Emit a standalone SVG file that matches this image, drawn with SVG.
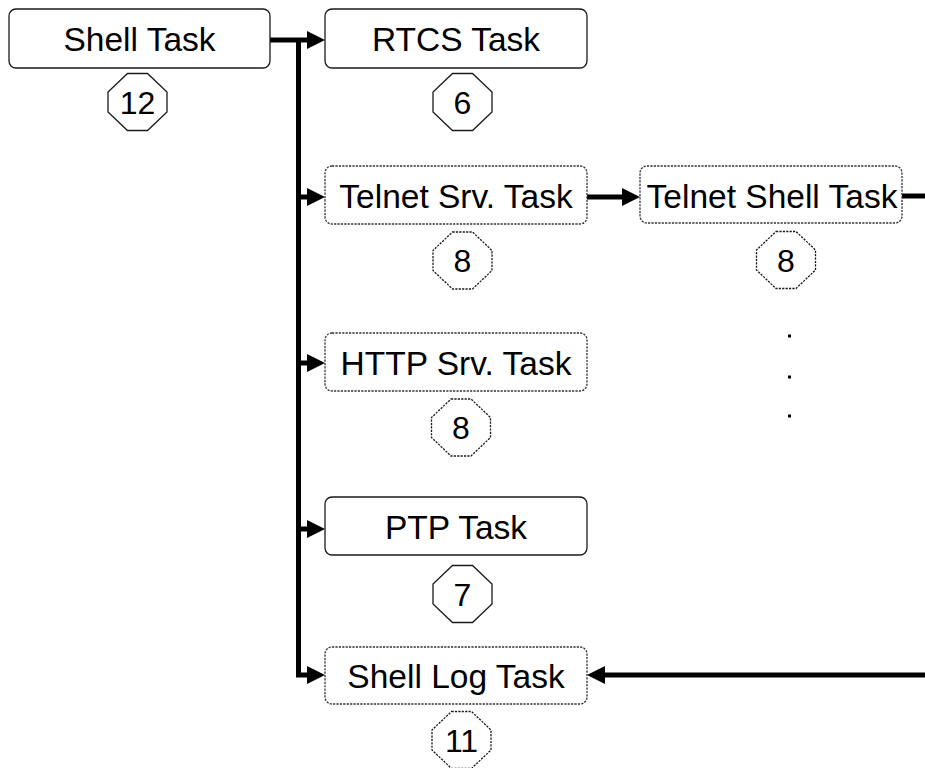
<svg xmlns="http://www.w3.org/2000/svg" width="925" height="768" viewBox="0 0 925 768">
  <style>
    .box { fill: #ffffff; stroke: #1a1a1a; stroke-width: 1.3; }
    .dotted { stroke-dasharray: 2.2 1.2; stroke: #333333; }
    .oct { fill: #ffffff; stroke: #1a1a1a; stroke-width: 1.3; }
    .label { font-family: "Liberation Sans", Arial, sans-serif; font-size: 33.5px; fill: #000000; text-anchor: middle; }
    .num { font-family: "Liberation Sans", Arial, sans-serif; font-size: 32px; fill: #000000; text-anchor: middle; }
    .wire { fill: none; stroke: #000000; stroke-width: 5; stroke-linejoin: miter; }
  </style>
  <defs>
    <marker id="arrow" markerUnits="userSpaceOnUse" markerWidth="20" markerHeight="20" refX="0" refY="9" orient="auto" overflow="visible">
      <path d="M0,0 L18,9 L0,18 Z" fill="#000000"/>
    </marker>
    <!-- octagon centred on the origin, flat top -->
    <polygon id="octagon" points="-10,-28.5 10,-28.5 29.5,-10 29.5,10 10,28.5 -10,28.5 -29.5,10 -29.5,-10"/>
  </defs>

  <rect width="925" height="768" fill="#ffffff"/>

  <!-- connectors -->
  <g id="connectors">
    <path class="wire" d="M270,40 H307" marker-end="url(#arrow)"/>
    <path class="wire" d="M298.5,40 V675 H307" marker-end="url(#arrow)"/>
    <path class="wire" d="M298.5,197 H307" marker-end="url(#arrow)"/>
    <path class="wire" d="M298.5,363 H307" marker-end="url(#arrow)"/>
    <path class="wire" d="M298.5,529 H307" marker-end="url(#arrow)"/>
    <path class="wire" d="M587,197 H622" marker-end="url(#arrow)"/>
    <path class="wire" d="M902,196 H925"/>
    <path class="wire" d="M925,675 H605" marker-end="url(#arrow)"/>
  </g>

  <!-- tasks -->
  <g id="shell-task">
    <rect class="box" x="9" y="9" width="261" height="59" rx="7"/>
    <text class="label" x="139.5" y="51">Shell Task</text>
    <use href="#octagon" class="oct" x="137.5" y="102"/>
    <text class="num" x="137.5" y="113.5">12</text>
  </g>

  <g id="rtcs-task">
    <rect class="box" x="325" y="9" width="262" height="59" rx="7"/>
    <text class="label" x="456" y="51">RTCS Task</text>
    <use href="#octagon" class="oct" x="462.5" y="102"/>
    <text class="num" x="462.5" y="113.5">6</text>
  </g>

  <g id="telnet-srv-task">
    <rect class="box dotted" x="325" y="166" width="262" height="58" rx="7"/>
    <text class="label" x="456" y="207.5">Telnet Srv. Task</text>
    <use href="#octagon" class="oct dotted" x="462.5" y="260.5"/>
    <text class="num" x="462.5" y="272">8</text>
  </g>

  <g id="telnet-shell-task">
    <rect class="box dotted" x="640" y="166" width="262" height="57" rx="7"/>
    <text class="label" x="772" y="207.5">Telnet Shell Task</text>
    <use href="#octagon" class="oct dotted" x="786" y="260"/>
    <text class="num" x="786" y="271.5">8</text>
  </g>

  <g id="more-shells">
    <rect x="788" y="334.5" width="3" height="3" fill="#000000"/>
    <rect x="788" y="375.5" width="3" height="3" fill="#000000"/>
    <rect x="788" y="414.5" width="3" height="3" fill="#000000"/>
  </g>

  <g id="http-srv-task">
    <rect class="box dotted" x="325" y="333" width="262" height="58" rx="7"/>
    <text class="label" x="456" y="374.5">HTTP Srv. Task</text>
    <use href="#octagon" class="oct dotted" x="461" y="427.5"/>
    <text class="num" x="461" y="439">8</text>
  </g>

  <g id="ptp-task">
    <rect class="box" x="325" y="497" width="262" height="58" rx="7"/>
    <text class="label" x="456" y="538.5">PTP Task</text>
    <use href="#octagon" class="oct" x="462.5" y="594"/>
    <text class="num" x="462.5" y="605.5">7</text>
  </g>

  <g id="shell-log-task">
    <rect class="box dotted" x="325" y="647" width="262" height="57" rx="7"/>
    <text class="label" x="456" y="687.5">Shell Log Task</text>
    <use href="#octagon" class="oct dotted" x="461.5" y="740"/>
    <text class="num" x="461.5" y="751.5">11</text>
  </g>
</svg>
